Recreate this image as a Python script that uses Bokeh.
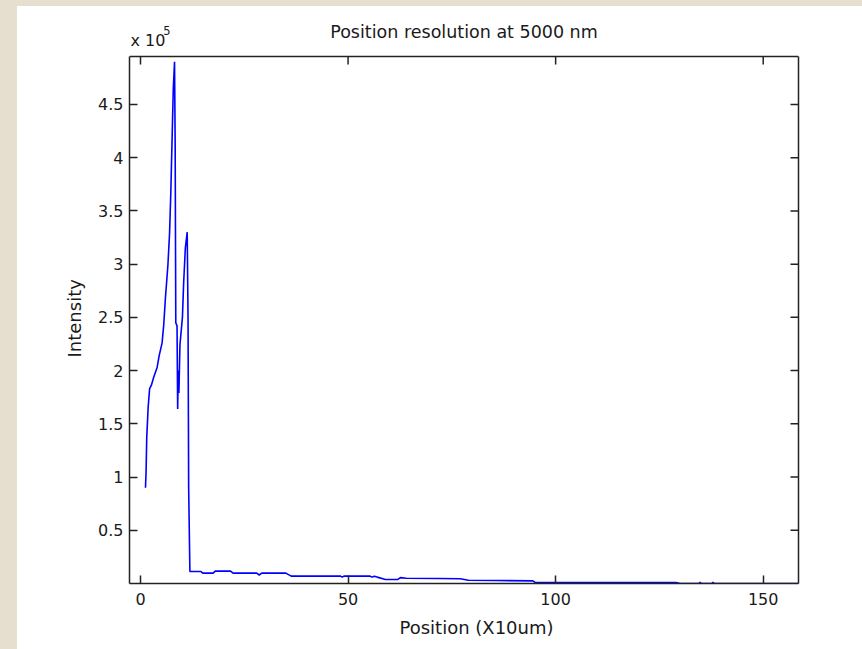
import math
from bokeh.plotting import figure
from bokeh.models import Range1d, FixedTicker, LinearAxis, Span, Title
from bokeh.core.properties import value
from bokeh.embed import file_html
from bokeh.resources import INLINE

# ---- data ----
position = [1.2, 1.35, 1.5, 1.85, 2.2, 2.6, 3.2, 4.0, 4.5, 5.2, 5.6, 6.0, 6.6, 7.0,
            7.3, 7.6, 7.9, 8.2, 8.35, 8.5, 8.8, 8.95, 9.1, 9.25, 9.5, 10.1, 10.4,
            10.8, 11.25, 11.45, 11.6, 11.9, 14.5, 15.0, 17.5, 18.0, 21.7, 22.3,
            28.0, 28.6, 29.2, 35.0, 36.3, 48.2, 48.6, 49.0, 55.3, 55.8, 56.3,
            57.0, 59.0, 62.0, 62.6, 64.0, 72.0, 77.0, 79.0, 86.0, 94.5, 95.0,
            110.0, 129.0, 130.0, 134.5, 134.8, 135.1, 137.6, 137.9, 138.2, 160.0]
intensity = [90000, 106000, 137000, 166000, 183000, 186000, 194000, 203000, 214000,
             226000, 243000, 268000, 299000, 329000, 367000, 416000, 465000, 490000,
             412000, 245000, 242000, 164000, 200000, 179000, 224000, 250000, 283000,
             315000, 330000, 250000, 90000, 11300, 11300, 9700, 9700, 11600, 11600,
             9700, 9700, 8000, 9700, 9700, 6900, 6900, 6000, 6900, 6900, 6000, 6900,
             6000, 3800, 3800, 5500, 5000, 4700, 4500, 3000, 2800, 2500, 1200,
             1000, 1000, 0, 0, 1100, 0, 0, 1100, 0, 0]

x_ticks = [0, 50, 100, 150]
y_ticks = [50000, 100000, 150000, 200000, 250000, 300000, 350000, 400000, 450000]
y_tick_labels = ["0.5", "1", "1.5", "2", "2.5", "3", "3.5", "4", "4.5"]

title_text = "Position resolution at 5000 nm"
x_label = "Position (X10um)"
y_label = "Intensity"
exp_base = "x 10"
exp_power = "5"

# axes box limits; the plotting frame extends above the box to hold the title row
x_min, x_max = -2.65, 158.5
y_min, y_max = 0, 495000
y_frame_top = 542000

FONT = "DejaVu Sans"
TXT = "#1a1a1a"
AX = "#222222"

p = figure(width=845, height=643, output_backend="svg", toolbar_location=None,
           x_range=Range1d(x_min, x_max), y_range=Range1d(y_min, y_frame_top),
           min_border_left=112, min_border_right=64, min_border_top=0,
           min_border_bottom=66, background_fill_color="white",
           border_fill_color="white", outline_line_color=None)
p.grid.visible = False

p.line(position, intensity, line_color="#0000ff", line_width=1.6)

# box: left/bottom axes, right axis line, top span
xa = p.xaxis[0]
ya = p.yaxis[0]
for ax, ticks in ((xa, x_ticks), (ya, y_ticks)):
    ax.ticker = FixedTicker(ticks=ticks)
    ax.major_tick_in = 8
    ax.major_tick_out = 0
    ax.minor_tick_line_color = None
    ax.major_tick_line_color = AX
    ax.major_tick_line_width = 1.5
    ax.axis_line_color = AX
    ax.axis_line_width = 1.5
    ax.major_label_text_font = FONT
    ax.major_label_text_color = TXT
    ax.major_label_text_font_size = "16px"
ya.bounds = (y_min, y_max)
xa.major_label_standoff = 9
ya.major_label_standoff = 6
ya.major_label_overrides = {t: s for t, s in zip(y_ticks, y_tick_labels)}

# axis titles placed as side titles to match the reference's offsets
xtitle = Title(text=x_label, align="left", offset=270, standoff=14,
               text_font=FONT, text_font_size="18px", text_font_style="normal",
               text_color=TXT)
p.add_layout(xtitle, "below")
ytitle = Title(text=y_label, align="left", offset=226, standoff=22,
               text_font=FONT, text_font_size="18px", text_font_style="normal",
               text_color=TXT)
p.add_layout(ytitle, "left")

right = LinearAxis(ticker=FixedTicker(ticks=[]), bounds=(y_min, y_max),
                   axis_line_color=AX, axis_line_width=1.5,
                   major_tick_line_color=None, minor_tick_line_color=None)
p.add_layout(right, "right")
p.add_layout(Span(location=y_max, dimension="width", line_color=AX, line_width=1.5))

# inward ticks on the top and right edges
p.ray(x=x_ticks, y=[y_max] * len(x_ticks), length=8, length_units="screen",
      angle=-math.pi / 2, line_color=AX, line_width=1.5)
p.ray(x=[x_max] * len(y_ticks), y=y_ticks, length=8, length_units="screen",
      angle=math.pi, line_color=AX, line_width=1.5)

# title row above the box
p.text(x=[(x_min + x_max) / 2], y=[y_max + 22600], text=[title_text],
       text_align="center", text_baseline="alphabetic", text_font=value(FONT),
       text_font_size="17.5px", text_color=TXT)
p.text(x=[x_min + 0.25], y=[y_max + 15000], text=[exp_base],
       text_align="left", text_baseline="alphabetic", text_font=value(FONT),
       text_font_size="16px", text_color=TXT)
p.text(x=[x_min + 8.15], y=[y_max + 24500], text=[exp_power],
       text_align="left", text_baseline="alphabetic", text_font=value(FONT),
       text_font_size="11.5px", text_color=TXT)

html = file_html(p, INLINE)
html = html.replace("</head>",
                    "<style>html{background:#e6dfd0;}"
                    "body{margin:6px 0 0 17px;background:#ffffff;overflow:hidden;}"
                    "</style></head>", 1)
open("out.html", "w").write(html)
